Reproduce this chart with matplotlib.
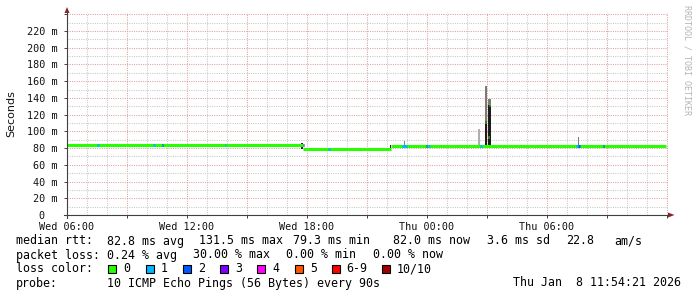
import matplotlib
matplotlib.use("Agg")
import matplotlib.pyplot as plt
import numpy as np
from matplotlib.lines import Line2D
from matplotlib.patches import Polygon, Rectangle

# time axis: hours since Wed 06:00
tick_hours = [0, 6, 12, 18, 24]
tick_labels = ["Wed 06:00", "Wed 12:00", "Wed 18:00", "Thu 00:00", "Thu 06:00"]

# median rtt (ms), piecewise levels
level_start = [0.0, 11.8, 16.2]
level_end = [11.8, 16.2, 29.95]
level_ms = [84.2, 79.4, 82.2]

# packets lost (out of 10) along the median line
loss_start = [1.52, 4.30, 4.75, 7.90, 11.78, 13.07, 16.75, 17.95, 18.03, 20.65, 25.43, 25.55, 26.78]
loss_end = [1.60, 4.40, 4.80, 7.95, 11.84, 13.15, 16.98, 18.02, 18.15, 20.75, 25.53, 25.63, 26.85]
loss_count = [1, 1, 2, 1, 3, 1, 1, 2, 1, 1, 1, 2, 2]

# smoke (min..max of pings) where it is visible
smoke_start = [11.72, 16.15, 16.85, 20.53, 20.90, 21.07, 25.55]
smoke_end = [11.80, 16.20, 16.92, 20.64, 21.00, 21.20, 25.62]
smoke_low = [79.4, 79.4, 84.0, 80.5, 80.5, 80.5, 84.0]
smoke_high = [85.5, 83.8, 88.7, 102.3, 154.0, 139.0, 93.5]
smoke_density = [0.9, 0.9, 0.45, 0.25, 0.5, 0.5, 0.5]

# dense core of the two big spikes
core_start = [20.90, 21.07]
core_end = [21.00, 21.20]
core_high = [112.0, 131.0]

# median during the spike
spike_h = [20.93, 21.08, 21.12]
spike_ms = [111.5, 93.0, 131.5]

loss_colors = ["#26ff00", "#00b8ff", "#0059ff", "#7e00ff", "#ff00ff", "#ff5500", "#ff0000", "#a10000"]
loss_names = ["0", "1", "2", "3", "4", "5", "6-9", "10/10"]

W, H = 697, 297
def fx(px):
    return px / W
def fy(py):
    return 1 - py / H

fig = plt.figure(figsize=(W / 100, H / 100), dpi=100)
ax = fig.add_axes([fx(67), fy(215), (668 - 67) / W, (215 - 13) / H])
ax.set_xlim(0, 30.05)
ax.set_ylim(0, 241.5)
ax.set_axisbelow(True)

# grid
ax.set_xticks(np.arange(0, 31, 3))
ax.set_xticks(np.arange(0, 31, 1), minor=True)
ax.set_xticklabels([tick_labels[tick_hours.index(h)] if h in tick_hours else "" for h in range(0, 31, 3)])
yt = np.arange(0, 241, 20)
ax.set_yticks(yt)
ax.set_yticks(np.arange(0, 241, 10), minor=True)
ax.set_yticklabels(["0  " if v == 0 else ("" if v == 240 else "%d m" % v) for v in yt])
ax.grid(which="major", color="#e0a0a0", lw=0.75, linestyle=(0, (1, 1.2)))
ax.grid(which="minor", color="#c8c8c8", lw=0.75, linestyle=(0, (1, 1.2)))
ax.tick_params(which="major", length=2, width=0.7, color="#404040", labelsize=7.3,
               labelcolor="#111111", pad=3)
ax.tick_params(which="minor", length=0)
for lab in ax.get_xticklabels() + ax.get_yticklabels():
    lab.set_family("DejaVu Sans Mono")
ax.tick_params(axis="y", pad=5)
for s in ax.spines.values():
    s.set_visible(False)

# median line
ax.hlines(level_ms, level_start, level_end, colors=loss_colors[0], lw=2.2, capstyle="butt")
for a, b, n in zip(loss_start, loss_end, loss_count):
    i = min(np.searchsorted(level_end, a, side="right"), len(level_ms) - 1)
    ax.hlines(level_ms[i], a, b, colors=loss_colors[n], lw=2.2, capstyle="butt")

# smoke
grays = [plt.cm.Greys(0.25 + 0.7 * d) for d in smoke_density]
ax.bar(smoke_start, np.subtract(smoke_high, smoke_low), width=np.subtract(smoke_end, smoke_start),
       bottom=smoke_low, align="edge", color=grays, lw=0)
ax.bar(core_start, np.subtract(core_high, 80.5), width=np.subtract(core_end, core_start),
       bottom=80.5, align="edge", color="#1c1c1c", lw=0)
ax.hlines(spike_ms, np.subtract(spike_h, 0.03), np.add(spike_h, 0.03), colors=loss_colors[0],
          lw=2.0, capstyle="butt")

# axes with arrows
ax_col = "#404040"
arr_col = "#992020"
fig.add_artist(Line2D([fx(67), fx(67)], [fy(218), fy(11)], color=ax_col, lw=0.8))
fig.add_artist(Line2D([fx(64), fx(670)], [fy(215), fy(215)], color=ax_col, lw=0.8))
fig.add_artist(Polygon([[fx(64.5), fy(13)], [fx(69.5), fy(13)], [fx(67), fy(7)]], closed=True,
                       color=arr_col, lw=0))
fig.add_artist(Polygon([[fx(668), fy(212.5)], [fx(668), fy(217.5)], [fx(674.5), fy(215)]], closed=True,
                       color=arr_col, lw=0))

fig.text(fx(11), fy(113.5), "Seconds", rotation=90, ha="center", va="center", fontsize=8,
         family="DejaVu Sans", color="#111111")
fig.text(fx(687), fy(60), "RRDTOOL / TOBI OETIKER", rotation=-90, ha="center", va="center",
         fontsize=6, family="DejaVu Sans Mono", color="#b4b4b4")

# legend
mono = dict(fontsize=8.4, family="DejaVu Sans Mono", color="#000000", va="center", ha="left")
rows = [
    (241, [(16, "median rtt:"), (107.3, "82.8 ms avg"), (199.3, "131.5 ms max"), (292.7, "79.3 ms min"),
           (393.3, "82.0 ms now"), (486.7, "3.6 ms sd"), (566, "22.8"), (614.3, "am/s")]),
    (255, [(16, "packet loss:"), (107.3, "0.24 % avg"), (192.7, "30.00 % max"), (286, "0.00 % min"),
           (372.7, "0.00 % now")]),
    (269, [(16, "loss color:")]),
    (283, [(16, "probe:"), (107.3, "10 ICMP Echo Pings (56 Bytes) every 90s"),
           (513.3, "Thu Jan  8 11:54:21 2026")]),
]
for y, items in rows:
    for x, s in items:
        fig.text(fx(x), fy(y), s, **mono)

box_x = [108, 145.7, 182.7, 220, 257, 295, 331.7, 381.7]
for x, c, name in zip(box_x, loss_colors, loss_names):
    fig.add_artist(Rectangle((fx(x), fy(273)), 8 / W, 8 / H, facecolor=c, edgecolor="black", lw=0.8))
    fig.text(fx(x + 15), fy(269), name, **mono)

fig.savefig("out.png", dpi=100)
